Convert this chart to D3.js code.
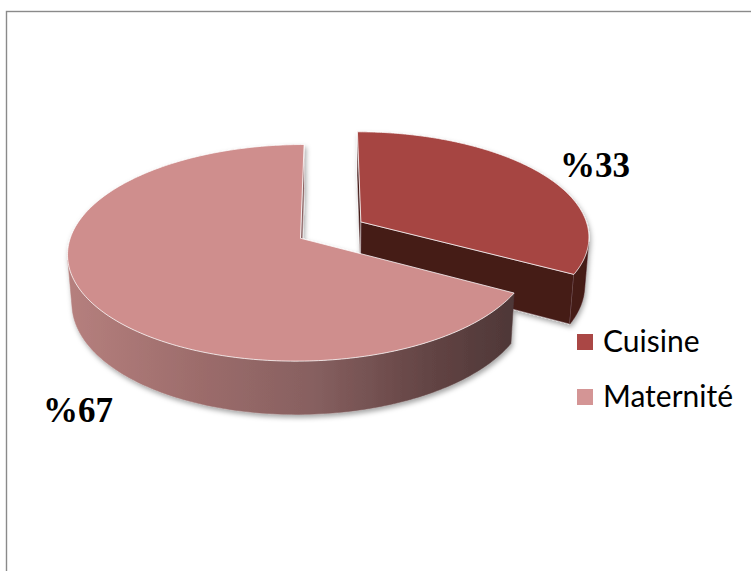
<!DOCTYPE html>
<html>
<head>
<meta charset="utf-8">
<script src="https://cdn.jsdelivr.net/npm/d3@7/dist/d3.min.js"></script>
<style>
  html, body { margin: 0; padding: 0; background: #fff; }
  svg { display: block; }
</style>
</head>
<body>
<svg id="chart" width="751" height="571"></svg>
<script>
// Répartition par service
const categories = ["Cuisine", "Maternité"];
const values = [33, 67];
const labels = ["%33", "%67"];

const W = 751, H = 571;
const svg = d3.select("#chart");

// frame
svg.append("rect")
  .attr("x", 6.5).attr("y", 11.5)
  .attr("width", W + 20).attr("height", H + 20)
  .attr("fill", "none").attr("stroke", "#8a8a8a").attr("stroke-width", 1.4);

const topColor = d3.scaleOrdinal(categories, ["#A64542", "#CF8E8D"]);
const sideColor = d3.scaleOrdinal(categories, ["#441A19", "url(#sideGrad)"]);
const legendColor = d3.scaleOrdinal(categories, ["#AA4745", "#D49595"]);

const defs = svg.append("defs");
const grad = defs.append("linearGradient").attr("id", "sideGrad")
  .attr("gradientUnits", "userSpaceOnUse")
  .attr("x1", 66).attr("x2", 514).attr("y1", 0).attr("y2", 0);
[[0, "#B6807E"], [0.3, "#9C6C6B"], [0.55, "#876060"], [0.8, "#644545"], [1, "#4E3737"]]
  .forEach(([o, c]) => grad.append("stop").attr("offset", o).attr("stop-color", c));

const shadow = defs.append("filter").attr("id", "shadow")
  .attr("x", "-10%").attr("y", "-10%").attr("width", "120%").attr("height", "130%");
shadow.append("feDropShadow").attr("dx", 1.5).attr("dy", 3).attr("stdDeviation", 2.5)
  .attr("flood-color", "#000").attr("flood-opacity", 0.35);

// perspective camera for the tilted disc
const K = 1522, D = 6.68;
const phi = 27.2 * Math.PI / 180;
const s = Math.sin(phi), c = Math.cos(phi);
const cx = 331, cy = 230;
const thick = 0.24, explode = 0.154;
const cam = [0, D * s, D * c];

function proj(X, Y, Z) {
  const depth = D - Y * s - Z * c;
  return [cx + K * X / depth, cy - K * (Y * c - Z * s) / depth];
}
function facing(n, p) {
  return n[0] * (cam[0] - p[0]) + n[1] * (cam[1] - p[1]) + n[2] * (cam[2] - p[2]) > 0;
}

const arcs = d3.pie().sort(null).value(d => d)(values).map((p, i) => {
  const mid = (p.startAngle + p.endAngle) / 2;
  return { ...p, name: categories[i], ox: explode * Math.sin(mid), oz: -explode * Math.cos(mid) };
});

const line = d3.line().curve(d3.curveLinearClosed);
const pieG = svg.append("g").attr("filter", "url(#shadow)");

const rim = (a, ox, oz, y) => [ox + Math.sin(a), y, oz - Math.cos(a)];

arcs.slice().sort((a, b) => a.oz - b.oz).forEach(a => {
  const g = pieG.append("g");
  const a0 = a.startAngle, a1 = a.endAngle, ox = a.ox, oz = a.oz;
  const ctrTop = [ox, 0, oz], ctrBot = [ox, -thick, oz];

  // radial cut faces
  [[a0, [-Math.cos(a0), 0, -Math.sin(a0)]], [a1, [Math.cos(a1), 0, Math.sin(a1)]]].forEach(([ang, n]) => {
    const rt = rim(ang, ox, oz, 0), rb = rim(ang, ox, oz, -thick);
    const midP = [(ox + rt[0]) / 2, -thick / 2, (oz + rt[2]) / 2];
    if (!facing(n, midP)) return;
    g.append("path")
      .attr("d", line([ctrTop, rt, rb, ctrBot].map(p => proj(...p))))
      .attr("fill", a.name === "Cuisine" ? "#441A19" : "#8C6565")
      .attr("stroke", "rgba(255,255,255,0.55)").attr("stroke-width", 0.8)
      .attr("stroke-linejoin", "round");
  });

  // outer curved wall, front-facing part only
  const N = 240;
  let run = [];
  const runs = [];
  for (let i = 0; i <= N; i++) {
    const t = a0 + (a1 - a0) * i / N;
    const p = rim(t, ox, oz, -thick / 2);
    const vis = facing([Math.sin(t), 0, -Math.cos(t)], p);
    if (vis) run.push(t);
    else if (run.length) { runs.push(run); run = []; }
  }
  if (run.length) runs.push(run);
  runs.forEach(r => {
    const topPts = r.map(t => proj(...rim(t, ox, oz, 0)));
    const botPts = r.slice().reverse().map(t => proj(...rim(t, ox, oz, -thick)));
    g.append("path")
      .attr("d", line(topPts.concat(botPts)))
      .attr("fill", sideColor(a.name))
      .attr("stroke", sideColor(a.name)).attr("stroke-width", 0.5);
  });

  // top face
  const topArc = d3.range(0, N + 1).map(i => proj(...rim(a0 + (a1 - a0) * i / N, ox, oz, 0)));
  g.append("path")
    .attr("d", line([proj(...ctrTop)].concat(topArc)))
    .attr("fill", topColor(a.name))
    .attr("stroke", "rgba(255,255,255,0.75)").attr("stroke-width", 1)
    .attr("stroke-linejoin", "round");
});

// percentage labels
const labelPos = [[560, 177], [43, 422]];
svg.selectAll("text.pct").data(labels).join("text")
  .attr("class", "pct")
  .attr("x", (d, i) => labelPos[i][0]).attr("y", (d, i) => labelPos[i][1])
  .attr("font-family", "'Liberation Serif', 'Times New Roman', serif")
  .attr("font-weight", "bold").attr("font-size", 35).attr("fill", "#000")
  .text(d => d);

// legend
const legend = svg.append("g").attr("transform", "translate(577,334)");
const item = legend.selectAll("g").data(categories).join("g")
  .attr("transform", (d, i) => `translate(0,${i * 55})`);
item.append("rect").attr("width", 16).attr("height", 16).attr("fill", d => legendColor(d));
item.append("text").attr("x", 26).attr("y", 18)
  .attr("font-family", "Lato, 'Open Sans', sans-serif").attr("font-size", 30)
  .attr("fill", "#000").text(d => d);
</script>
</body>
</html>
